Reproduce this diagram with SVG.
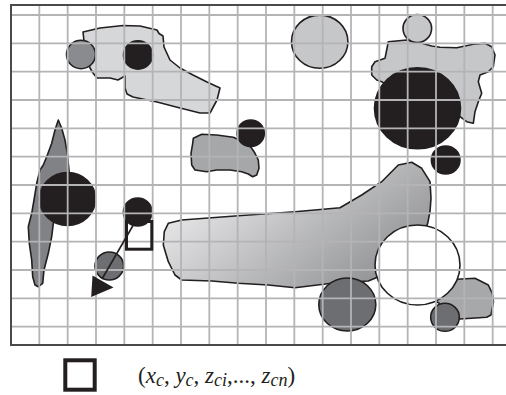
<svg xmlns="http://www.w3.org/2000/svg" width="506" height="395" viewBox="0 0 506 395">
<style>
.s{stroke:#231f20;stroke-width:1.6;stroke-linejoin:round}
.blk{fill:#231f20}
.lt{fill:#d6d7d9}
.lc{fill:#c6c7c9}
.mg{fill:#a6a7a9}
.dg{fill:#6d6e71}
.sg{fill:#8a8b8e}
.sp{fill:#808285}
.grid line{stroke:#b4b4b7;stroke-width:1.8}
.frame{stroke:#4a4a4c;stroke-width:2;fill:none}
.it{font-style:italic}
.sub{font-style:italic;font-size:18px}
</style>
<defs>
<linearGradient id="gr" x1="0.02" y1="0.3" x2="0.95" y2="0.85">
<stop offset="0" stop-color="#ececed"/>
<stop offset="1" stop-color="#8c8d90"/>
</linearGradient>
</defs>
<rect x="0" y="0" width="506" height="395" fill="#fff"/>

<g id="shape-topleft">
<polygon class="s lt" points="83,32 100,28 123,25.5 140,26 157,30 159,33.5 163,36 164,47 170,60 180,68 193,75 207,82 220,88 217,100 210,113 200,113 180,108 157,102 133,97 127,94 125,88 125,76 118,80 110,78 97,78 93,73 90,68 85,50"/>
<ellipse class="s sg" cx="81" cy="54.5" rx="14.5" ry="14.2"/>
<ellipse class="s blk" cx="138" cy="55" rx="14.5" ry="14.2"/>
</g>

<g id="circle-top">
<ellipse class="s lc" cx="319.7" cy="41.7" rx="28.2" ry="26.6"/>
</g>

<g id="shape-topright">
<polygon class="s lc" points="388.3,41.7 406.7,40 420,42.7 431.7,46 440,47.3 456.7,47.7 473.3,44.3 485,43.3 491.7,46.7 495,55 493.3,66.7 488.3,71.7 480,75 478.3,81.7 481.7,93.3 478.3,101.7 475,111.7 473.3,123.3 466.7,121.7 460,116.7 420,110 381.7,81.7 376.7,80 371.7,75 371.7,66.7 375,61.7 385,58.3 386.7,50"/>
<ellipse class="s lc" cx="417.3" cy="28.5" rx="14.3" ry="14"/>
<ellipse class="s blk" cx="417.5" cy="108.3" rx="43" ry="40.5"/>
<ellipse class="s blk" cx="445.7" cy="160" rx="14.3" ry="14"/>
</g>

<g id="shape-middle">
<polygon class="s mg" points="193.3,138.3 201.7,134.3 216.7,135 233.3,137.3 246.7,143.3 251.7,148.3 255,153.3 258.3,160 259,168.3 256.7,175 252.7,176.7 248.3,174 241.7,171.7 230,170 216.7,170 206.7,171.7 195,170 191.7,165 191,153.3 192.7,143.3"/>
<ellipse class="s blk" cx="250.7" cy="133.3" rx="13.6" ry="13.3"/>
</g>

<g id="shape-left">
<polygon class="s sp" points="58.3,120 61.7,128.3 65,140 67.3,153.3 69.3,173.3 70,200 53.3,223.3 51.7,236.7 48.3,253.3 44,270 42.7,283.3 38.3,286.7 35,285 32.7,276.7 31.7,260 29.3,243.3 28.3,226.7 31.7,213.3 34,200 36.7,183.3 40,170 43.3,165 46.7,156.7 51.7,143.3 55,130"/>
<ellipse class="s blk" cx="67.5" cy="199" rx="28" ry="26.5"/>
</g>

<g id="shape-gradient">
<polygon class="s" fill="url(#gr)" points="168.3,223.3 181.7,220 238.3,215.7 295,211.7 340,207.7 361.7,195 381.7,181.7 398.3,165 411.7,162.3 421.7,168.3 430,181.7 431,198.3 430,211.7 427.7,223.3 410,260 375,278.3 368.3,281 331.7,283.3 295,287.7 268.3,285 238.3,283.3 211.7,281 181.7,280 175,275 168.3,261.7 163.3,245 164.3,231.7"/>
<ellipse class="s dg" cx="347.3" cy="304.5" rx="28.5" ry="26.5"/>
</g>

<g id="shape-bottomright">
<polygon class="s" fill="#a7a8aa" points="432,296 456.7,279.3 475,278.3 488.3,285 492.3,293.3 493.5,301.7 491,315 486.7,317.3 460,319 445,318 439,303 433,300"/>
<ellipse class="s" fill="#fff" cx="417.5" cy="265" rx="42.5" ry="40"/>
<ellipse class="s dg" cx="445" cy="317.3" rx="14.3" ry="14"/>
</g>

<g id="circles-small">
<ellipse class="s blk" cx="137.7" cy="212" rx="14.3" ry="14"/>
<ellipse class="s dg" cx="109.3" cy="266" rx="14.3" ry="14"/>
</g>

<g class="grid" id="grid">
<line x1="39.33" y1="5" x2="39.33" y2="345"/>
<line x1="67.67" y1="5" x2="67.67" y2="345"/>
<line x1="96" y1="5" x2="96" y2="345"/>
<line x1="124.33" y1="5" x2="124.33" y2="345"/>
<line x1="152.67" y1="5" x2="152.67" y2="345"/>
<line x1="181" y1="5" x2="181" y2="345"/>
<line x1="209.33" y1="5" x2="209.33" y2="345"/>
<line x1="237.67" y1="5" x2="237.67" y2="345"/>
<line x1="266" y1="5" x2="266" y2="345"/>
<line x1="294.33" y1="5" x2="294.33" y2="345"/>
<line x1="322.67" y1="5" x2="322.67" y2="345"/>
<line x1="351" y1="5" x2="351" y2="345"/>
<line x1="379.33" y1="5" x2="379.33" y2="345"/>
<line x1="407.67" y1="5" x2="407.67" y2="345"/>
<line x1="436" y1="5" x2="436" y2="345"/>
<line x1="464.33" y1="5" x2="464.33" y2="345"/>
<line x1="492.67" y1="5" x2="492.67" y2="345"/>
<line x1="11" y1="15" x2="506" y2="15"/>
<line x1="11" y1="43.33" x2="506" y2="43.33"/>
<line x1="11" y1="71.67" x2="506" y2="71.67"/>
<line x1="11" y1="100" x2="506" y2="100"/>
<line x1="11" y1="128.33" x2="506" y2="128.33"/>
<line x1="11" y1="156.67" x2="506" y2="156.67"/>
<line x1="11" y1="185" x2="506" y2="185"/>
<line x1="11" y1="213.33" x2="506" y2="213.33"/>
<line x1="11" y1="241.67" x2="506" y2="241.67"/>
<line x1="11" y1="270" x2="506" y2="270"/>
<line x1="11" y1="298.33" x2="506" y2="298.33"/>
<line x1="11" y1="326.67" x2="506" y2="326.67"/>
</g>
<path class="frame" d="M506,5 H11 V345 H506"/>

<g id="cell">
<rect x="126.5" y="221.5" width="25.3" height="27.7" fill="none" stroke="#231f20" stroke-width="3"/>
</g>

<g id="connectors">
<line x1="133.3" y1="225" x2="102" y2="279" stroke="#231f20" stroke-width="1.6"/>
<polygon points="91.2,297 92.5,275.5 113.5,287.5" fill="#231f20"/>
</g>

<g id="legend">
<rect x="65.3" y="360.3" width="29.4" height="29.4" fill="none" stroke="#231f20" stroke-width="4"/>
<text x="138" y="383" font-family="'Liberation Serif', serif" font-size="23" fill="#231f20">(<tspan class="it">x</tspan><tspan class="sub" dy="3">c</tspan><tspan dy="-3">, </tspan><tspan class="it">y</tspan><tspan class="sub" dy="3">c</tspan><tspan dy="-3">, </tspan><tspan class="it">z</tspan><tspan class="sub" dy="3">ci</tspan><tspan dy="-3">,..., </tspan><tspan class="it">z</tspan><tspan class="sub" dy="3">cn</tspan><tspan dy="-3">)</tspan></text>
</g>
</svg>
